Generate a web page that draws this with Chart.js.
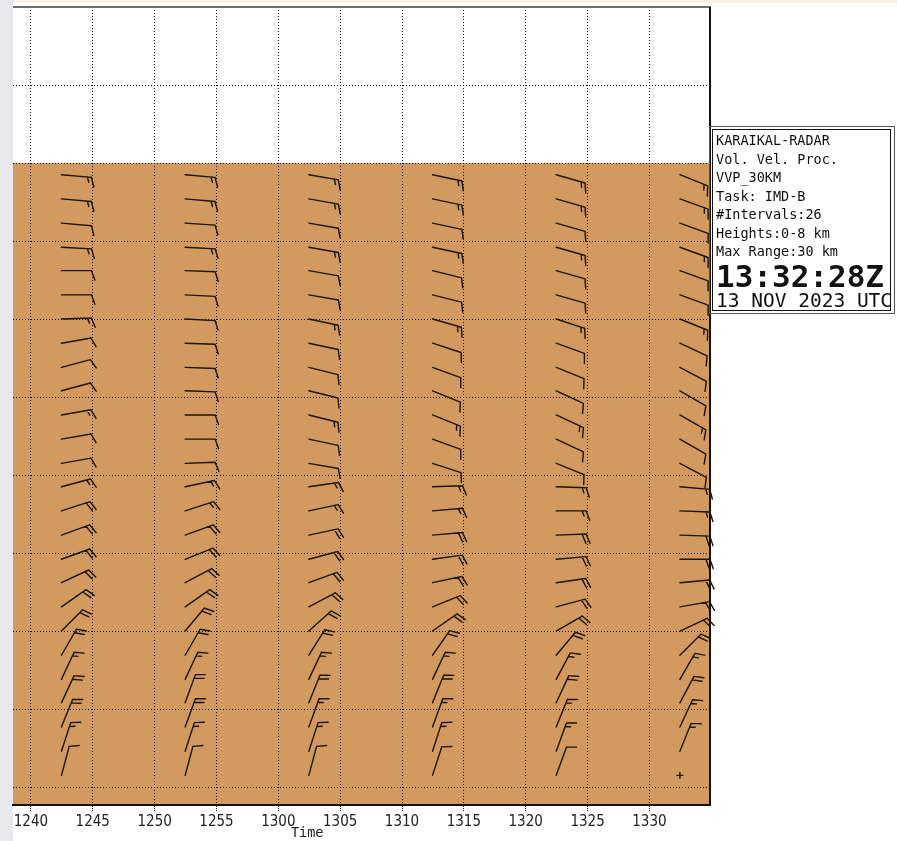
<!DOCTYPE html>
<html>
<head>
<meta charset="utf-8">
<script src="https://cdn.jsdelivr.net/npm/chart.js@4.4.1/dist/chart.umd.min.js"></script>
<style>
  html, body { margin: 0; padding: 0; background: #fff; }
  canvas { display: block; }
</style>
</head>
<body>
<canvas id="vvpChart" width="897" height="841"></canvas>
<script>
// VVP scan times (UTC)
const scanTimes = ['12:42:28', '12:52:28', '13:02:28', '13:12:28', '13:22:28', '13:32:28'];

// centre height (km) of the 26 VVP intervals, lowest first
const heights = [0.15, 0.46, 0.77, 1.08, 1.38, 1.69, 2.00, 2.31, 2.62, 2.92, 3.23, 3.54, 3.85,
                 4.15, 4.46, 4.77, 5.08, 5.38, 5.69, 6.00, 6.31, 6.62, 6.92, 7.23, 7.54, 7.85];

// x axis tick labels (HHMM)
const tickLabels = ['1240', '1245', '1250', '1255', '1300', '1305', '1310', '1315', '1320', '1325', '1330'];

// wind direction (deg, from) per scan, lowest interval first
const dir1242 = [15, 18, 22, 25, 25, 30, 45, 55, 65, 70, 70, 72, 75, 80, 80, 80, 75, 75, 80, 88, 90, 90, 93, 95, 95, 95];
const dir1252 = [15, 18, 20, 20, 25, 30, 40, 55, 62, 68, 70, 72, 78, 88, 90, 90, 92, 92, 92, 93, 93, 92, 93, 94, 95, 95];
const dir1302 = [15, 18, 20, 22, 25, 32, 48, 62, 70, 75, 78, 78, 82, 100, 102, 104, 104, 104, 102, 102, 100, 100, 100, 100, 100, 100];
const dir1312 = [18, 18, 20, 22, 25, 35, 55, 68, 78, 82, 85, 85, 88, 108, 110, 112, 112, 110, 108, 106, 104, 104, 102, 102, 102, 102];
const dir1322 = [20, 20, 22, 25, 28, 40, 60, 75, 82, 85, 88, 90, 92, 112, 115, 115, 115, 112, 110, 108, 106, 106, 106, 106, 106, 106];
const dir1332 = [null, 22, 25, 28, 30, 45, 65, 80, 85, 90, 92, 92, 95, 118, 120, 120, 120, 118, 115, 112, 110, 110, 110, 110, 110, 112];

// wind speed (kt) per scan, lowest interval first
const spd1242 = [10, 15, 20, 20, 15, 20, 20, 20, 20, 20, 20, 20, 15, 10, 10, 15, 10, 10, 10, 15, 10, 10, 15, 10, 15, 15];
const spd1252 = [10, 15, 20, 20, 15, 20, 20, 20, 20, 20, 20, 15, 15, 10, 10, 10, 10, 10, 10, 10, 10, 10, 15, 10, 15, 15];
const spd1302 = [10, 15, 15, 20, 15, 20, 20, 20, 20, 20, 20, 15, 15, 10, 10, 15, 10, 10, 10, 15, 10, 10, 15, 10, 15, 15];
const spd1312 = [10, 15, 15, 20, 15, 20, 20, 20, 20, 20, 20, 15, 15, 10, 10, 15, 10, 10, 10, 15, 10, 10, 15, 10, 15, 15];
const spd1322 = [10, 15, 15, 20, 15, 20, 20, 20, 20, 20, 20, 15, 15, 10, 10, 15, 10, 10, 10, 15, 10, 10, 15, 10, 15, 15];
const spd1332 = [null, 15, 15, 20, 15, 20, 20, 20, 20, 20, 20, 15, 15, 10, 10, 15, 10, 10, 10, 15, 10, 10, 15, 10, 15, 15];

const directions = [dir1242, dir1252, dir1302, dir1312, dir1322, dir1332];
const speeds = [spd1242, spd1252, spd1302, spd1312, spd1322, spd1332];

const infoLines = ['KARAIKAL-RADAR', 'Vol. Vel. Proc.', 'VVP_30KM', 'Task: IMD-B',
                   '#Intervals:26', 'Heights:0-8 km', 'Max Range:30 km'];
const timeStamp = '13:32:28Z';
const dateStamp = '13 NOV 2023 UTC';

const MAX_HEIGHT = 8;
const STAFF = 30, FULL = 10, HALF = 5.5, GAP = 4;
const FEATHER_TILT = 70;

function toMinutes(t) {
  const p = t.split(':').map(Number);
  return p[0] * 60 + p[1] + (p[2] || 0) / 60;
}
const tickMinutes = tickLabels.map(l => toMinutes(l.slice(0, 2) + ':' + l.slice(2)));

const points = [];
scanTimes.forEach((t, s) => {
  heights.forEach((h, i) => {
    points.push({ x: toMinutes(t), y: h, dir: directions[s][i], spd: speeds[s][i] });
  });
});

function drawBarb(ctx, x, y, dir, spd) {
  ctx.beginPath();
  if (spd == null || dir == null) {
    // no wind solution for this interval
    ctx.moveTo(x - 3, y); ctx.lineTo(x + 3, y);
    ctx.moveTo(x, y - 3); ctx.lineTo(x, y + 3);
    ctx.stroke();
    return;
  }
  const r = dir * Math.PI / 180;
  const ux = Math.sin(r), uy = -Math.cos(r);
  const tx = x + ux * STAFF, ty = y + uy * STAFF;
  ctx.moveTo(x, y);
  ctx.lineTo(tx, ty);
  const f = r + FEATHER_TILT * Math.PI / 180;
  const fx = Math.sin(f), fy = -Math.cos(f);
  let rem = Math.round(spd / 5) * 5;
  let pos = 0;
  while (rem >= 10) {
    const bx = tx - ux * pos, by = ty - uy * pos;
    ctx.moveTo(bx, by);
    ctx.lineTo(bx + fx * FULL, by + fy * FULL);
    rem -= 10;
    pos += GAP;
  }
  if (rem >= 5) {
    if (pos === 0) pos = GAP;
    const bx = tx - ux * pos, by = ty - uy * pos;
    ctx.moveTo(bx, by);
    ctx.lineTo(bx + fx * HALF, by + fy * HALF);
  }
  ctx.stroke();
}

const vvpPlugin = {
  id: 'vvp',
  beforeDraw(chart) {
    const { ctx, chartArea: a, scales: { y } } = chart;
    ctx.save();
    ctx.fillStyle = '#e9e9ed';
    ctx.fillRect(0, 0, a.left, chart.height);
    ctx.fillStyle = '#fcefe5';
    ctx.fillRect(a.left, 0, chart.width - a.left, 3);
    const top = y.getPixelForValue(MAX_HEIGHT);
    ctx.fillStyle = '#d39a5f';
    ctx.fillRect(a.left, top, a.right - a.left, a.bottom - top);
    ctx.restore();
  },
  afterDatasetsDraw(chart) {
    const { ctx } = chart;
    const meta = chart.getDatasetMeta(0);
    ctx.save();
    ctx.strokeStyle = '#1b1309';
    ctx.lineWidth = 1.4;
    ctx.lineCap = 'round';
    meta.data.forEach((el, i) => {
      const p = points[i];
      drawBarb(ctx, el.x, el.y, p.dir, p.spd);
    });
    ctx.restore();
  },
  afterDraw(chart) {
    const { ctx, chartArea: a } = chart;
    ctx.save();
    // plot frame
    ctx.strokeStyle = '#6e6e6e';
    ctx.lineWidth = 2;
    ctx.beginPath(); ctx.moveTo(a.left, a.top); ctx.lineTo(a.right + 1, a.top); ctx.stroke();
    ctx.strokeStyle = '#111';
    ctx.beginPath(); ctx.moveTo(a.right, a.top); ctx.lineTo(a.right, a.bottom); ctx.stroke();

    // axis title
    ctx.fillStyle = '#222';
    ctx.font = '13.5px "DejaVu Sans Mono", monospace';
    ctx.textAlign = 'center';
    ctx.textBaseline = 'middle';
    ctx.fillText('Time', a.left + (a.right - a.left) * 0.422, 833);

    // info panel
    const bx = a.right + 1, by = 127, bw = 182, bh = 185;
    ctx.fillStyle = '#fff';
    ctx.fillRect(bx, by, bw, bh);
    ctx.strokeStyle = '#555';
    ctx.lineWidth = 1;
    ctx.strokeRect(bx - 1.5, by - 0.5, bw + 3, bh + 2);
    ctx.strokeStyle = '#111';
    ctx.strokeRect(bx + 1.5, by + 2.5, bw - 4, bh - 4);
    ctx.fillStyle = '#111';
    ctx.textAlign = 'left';
    ctx.textBaseline = 'alphabetic';
    ctx.font = '13.5px "DejaVu Sans Mono", monospace';
    infoLines.forEach((t, i) => ctx.fillText(t, bx + 5, 145 + i * 18.5));
    ctx.font = 'bold 31px "DejaVu Sans Mono", monospace';
    ctx.fillText(timeStamp, bx + 5, 287);
    ctx.font = '19.5px "DejaVu Sans Mono", monospace';
    ctx.fillText(dateStamp, bx + 5, 307);
    ctx.restore();
  }
};

new Chart(document.getElementById('vvpChart'), {
  type: 'scatter',
  data: {
    datasets: [{
      data: points.map(p => ({ x: p.x, y: p.y })),
      pointRadius: 0,
      pointHoverRadius: 0
    }]
  },
  options: {
    responsive: false,
    animation: false,
    events: [],
    layout: { padding: { left: 13, top: 7, right: 187, bottom: 8 } },
    plugins: { legend: { display: false }, tooltip: { enabled: false } },
    scales: {
      x: {
        type: 'linear',
        min: 758.55,
        max: 814.9,
        afterBuildTicks(scale) { scale.ticks = tickMinutes.map(v => ({ value: v })); },
        ticks: {
          callback: (v, i) => tickLabels[i],
          color: '#222',
          padding: 2,
          maxRotation: 0,
          autoSkip: false,
          font: { family: '"DejaVu Sans Condensed", "Liberation Sans", sans-serif', size: 15 }
        },
        grid: { color: '#111', lineWidth: 1, tickLength: 6, tickColor: '#222', tickBorderDash: [1, 1] },
        border: { display: true, color: '#111', width: 2, dash: [1, 2] }
      },
      y: {
        type: 'linear',
        min: -0.23,
        max: 10,
        afterBuildTicks(scale) { scale.ticks = [0, 1, 2, 3, 4, 5, 6, 7, 8, 9].map(v => ({ value: v })); },
        ticks: { display: false },
        grid: { color: '#111', lineWidth: 1, drawTicks: false },
        border: { display: false, dash: [1, 2] }
      }
    }
  },
  plugins: [vvpPlugin]
});
</script>
</body>
</html>
